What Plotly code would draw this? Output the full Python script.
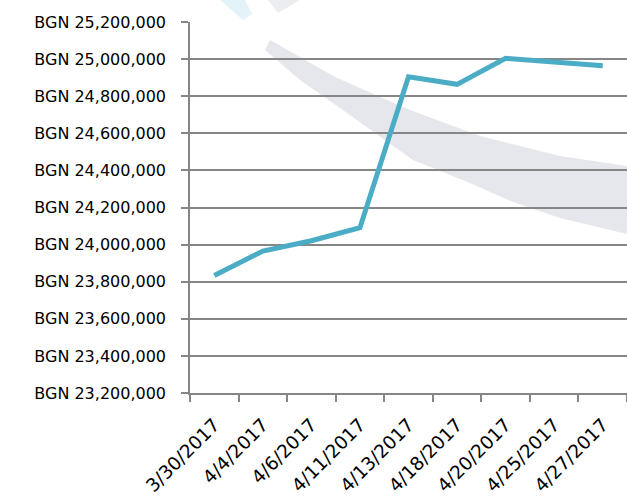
import plotly.graph_objects as go

dates = ["3/30/2017", "4/4/2017", "4/6/2017", "4/11/2017", "4/13/2017",
         "4/18/2017", "4/20/2017", "4/25/2017", "4/27/2017"]
values = [23834000, 23965000, 24021000, 24091000, 24905000,
          24864000, 25004000, 24983000, 24964000]

L, R, T, B = 190, 627, 22, 393
W, H = 627, 497

def px(x, y):
    return (x - L) / (R - L), (B - y) / (B - T)

def path(points):
    pts = [px(x, y) for x, y in points]
    s = "M %f %f" % pts[0]
    for p in pts[1:]:
        s += " L %f %f" % p
    return s + " Z"

band = [(270, 40), (300, 57), (335, 77), (410, 110), (480, 136), (560, 156), (627, 166),
        (627, 234), (560, 218), (513, 202), (470, 183), (413, 160), (340, 108), (300, 80), (265, 50)]
top_grey = [(268, 0), (300, 0), (278, 13)]
teal = [(220, 0), (245, 0), (252, 14), (243, 20)]

fig = go.Figure()
fig.add_trace(go.Scatter(x=dates, y=values, mode="lines",
                         line=dict(color="#4BACC6", width=5), hoverinfo="skip"))

shapes = [
    dict(type="path", path=path(band), xref="paper", yref="paper", fillcolor="#E6E7EC",
         line=dict(width=0), layer="below"),
    dict(type="path", path=path(top_grey), xref="paper", yref="paper", fillcolor="#ECEDF0",
         line=dict(width=0), layer="below"),
    dict(type="path", path=path(teal), xref="paper", yref="paper", fillcolor="#E3F3F7",
         line=dict(width=0), layer="below"),
]

fig.update_layout(
    width=W, height=H,
    margin=dict(l=L, r=W - R, t=T, b=H - B, autoexpand=False),
    paper_bgcolor="white", plot_bgcolor="rgba(0,0,0,0)",
    showlegend=False,
    font=dict(family="DejaVu Sans, sans-serif", color="#000000", size=16),
    shapes=shapes,
    xaxis=dict(type="category", range=[-0.5, len(dates) - 0.5], tickangle=-45,
               tickson="boundaries", ticks="outside", ticklabelstandoff=12,
               ticklen=7, tickcolor="#868686", tickwidth=1.5, showline=True,
               linecolor="#868686", linewidth=1.5, showgrid=False, zeroline=False,
               tickfont=dict(size=18.5), fixedrange=True),
    yaxis=dict(range=[23200000, 25200000], dtick=200000, tick0=23200000,
               tickprefix="BGN ", tickformat=",d", ticks="outside", ticklen=7,
               ticklabelstandoff=12,
               tickcolor="#868686", tickwidth=1.5, showline=True, linecolor="#868686",
               linewidth=1.5, showgrid=True, gridcolor="#868686", gridwidth=1.5,
               zeroline=False, tickfont=dict(size=16), fixedrange=True),
)

fig.write_html("out.html", config={"displayModeBar": False},
               post_script="document.body.style.margin='0';")
